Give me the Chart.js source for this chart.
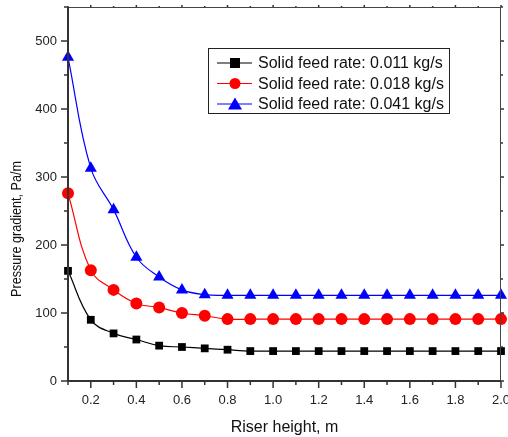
<!DOCTYPE html>
<html><head><meta charset="utf-8">
<script src="https://cdn.jsdelivr.net/npm/chart.js@4.4.0/dist/chart.umd.min.js"></script>
<style>html,body{margin:0;padding:0;background:#fff}#wrap{width:508px;height:437px}</style>
</head><body><div id="wrap"><canvas id="c" width="508" height="437"></canvas></div>
<script>
const heights = [0.1,0.2,0.3,0.4,0.5,0.6,0.7,0.8,0.9,1.0,1.1,1.2,1.3,1.4,1.5,1.6,1.7,1.8,1.9,2.0];
const rate011 = [162,90,70,61,52,50,48,46,44,44,44,44,44,44,44,44,44,44,44,44];
const rate018 = [276,163,134,114,108,100,96,91,91,91,91,91,91,91,91,91,91,91,91,91];
const rate041 = [476,313,252,182,153,134,127,126,126,126,126,126,126,126,126,126,126,126,126,126];
const seriesLabels = ['Solid feed rate: 0.011 kg/s','Solid feed rate: 0.018 kg/s','Solid feed rate: 0.041 kg/s'];
const yTitle = 'Pressure gradient, Pa/m';
const xTitle = 'Riser height, m';
const yTicks = [0,100,200,300,400,500];
const xTicks = [0.2,0.4,0.6,0.8,1.0,1.2,1.4,1.6,1.8,2.0];
const xMinor = [0.1,0.3,0.5,0.7,0.9,1.1,1.3,1.5,1.7,1.9];
const yMinor = [50,150,250,350,450,550];

const FONT = '"Liberation Sans", Arial, sans-serif';
function pts(vals){return heights.map((h,i)=>({x:h,y:vals[i]}));}

const axisPlugin = {
  id:'axisPlugin',
  afterDraw(chart){
    const ctx=chart.ctx, a=chart.chartArea, xs=chart.scales.x, ys=chart.scales.y;
    ctx.save();
    ctx.strokeStyle='#444'; ctx.lineWidth=1;
    ctx.beginPath(); ctx.moveTo(a.left,a.top+0.5); ctx.lineTo(a.right,a.top+0.5);
    ctx.moveTo(a.right-0.5,a.top); ctx.lineTo(a.right-0.5,a.bottom); ctx.stroke();
    ctx.strokeStyle='#333'; ctx.lineWidth=2;
    ctx.beginPath(); ctx.moveTo(a.left,a.top); ctx.lineTo(a.left,a.bottom+1);
    ctx.moveTo(a.left-1,a.bottom); ctx.lineTo(a.right,a.bottom); ctx.stroke();
    ctx.lineWidth=1.5; ctx.strokeStyle='#333';
    ctx.beginPath();
    xTicks.forEach(v=>{const p=xs.getPixelForValue(v); ctx.moveTo(p,a.bottom); ctx.lineTo(p,a.bottom+7); ctx.moveTo(p,a.top); ctx.lineTo(p,a.top-2);});
    xMinor.forEach(v=>{const p=xs.getPixelForValue(v); ctx.moveTo(p,a.bottom); ctx.lineTo(p,a.bottom+4); ctx.moveTo(p,a.top); ctx.lineTo(p,a.top-1);});
    yTicks.forEach(v=>{const p=ys.getPixelForValue(v); ctx.moveTo(a.left,p); ctx.lineTo(a.left-7,p); ctx.moveTo(a.right,p); ctx.lineTo(a.right+3,p);});
    yMinor.forEach(v=>{const p=ys.getPixelForValue(v); ctx.moveTo(a.left,p); ctx.lineTo(a.left-4,p); ctx.moveTo(a.right,p); ctx.lineTo(a.right+2,p);});
    ctx.stroke();
    // y title
    ctx.save();
    ctx.translate(17,229); ctx.rotate(-Math.PI/2); ctx.scale(0.9,1);
    ctx.font='14px '+FONT; ctx.fillStyle='#111'; ctx.textAlign='center'; ctx.textBaseline='middle';
    ctx.fillText(yTitle,0,0);
    ctx.restore();
    // legend
    const lx=208, ly=48, lw=241, lh=65;
    ctx.fillStyle='#fff'; ctx.fillRect(lx,ly,lw,lh);
    ctx.strokeStyle='#222'; ctx.lineWidth=1; ctx.strokeRect(lx+0.5,ly+0.5,lw,lh);
    ctx.font='16px '+FONT; ctx.textBaseline='middle'; ctx.textAlign='left';
    chart.data.datasets.forEach((ds,i)=>{
      const y=ly+15+i*20.5;
      ctx.strokeStyle=ds.borderColor; ctx.lineWidth=1;
      ctx.beginPath(); ctx.moveTo(lx+9,y); ctx.lineTo(lx+44,y); ctx.stroke();
      ctx.fillStyle=ds.pointBackgroundColor;
      const cx=lx+27;
      if(ds.pointStyle==='rect'){ctx.fillRect(cx-5,y-5,10,10);}
      else if(ds.pointStyle==='circle'){ctx.beginPath(); ctx.arc(cx,y,5.5,0,Math.PI*2); ctx.fill();}
      else {ctx.beginPath(); ctx.moveTo(cx,y-6.5); ctx.lineTo(cx+7,y+5.5); ctx.lineTo(cx-7,y+5.5); ctx.closePath(); ctx.fill();}
      ctx.fillStyle='#111'; ctx.fillText(seriesLabels[i], lx+50, y+1);
    });
    ctx.restore();
  }
};

function ds(label,vals,color,style,r){
  return {label, data:pts(vals), borderColor:color, backgroundColor:color, pointBackgroundColor:color,
    pointBorderColor:color, pointStyle:style, pointRadius:r, pointBorderWidth:0, borderWidth:1.2,
    tension:0.4, clip:8};
}

new Chart(document.getElementById('c'),{
  type:'line',
  data:{datasets:[
    ds(seriesLabels[0],rate011,'#000000','rect',5.5),
    ds(seriesLabels[1],rate018,'#ff0000','circle',6),
    ds(seriesLabels[2],rate041,'#0000ff','triangle',7)
  ]},
  options:{
    responsive:false, animation:false, devicePixelRatio:1,
    layout:{padding:{top:6,right:6,left:0,bottom:0}},
    plugins:{legend:{display:false},tooltip:{enabled:false}},
    scales:{
      x:{type:'linear',min:0.1,max:2.0,
        afterBuildTicks(s){s.ticks=xTicks.map(v=>({value:v}));},
        afterFit(s){s.height=56; s.paddingLeft=0; s.paddingRight=0;},
        grid:{display:false,drawTicks:false}, border:{display:false},
        ticks:{padding:12,color:'#222',font:{family:FONT,size:13},maxRotation:0,autoSkip:false,
          callback:v=>Number(v).toFixed(1)},
        title:{display:true,text:xTitle,color:'#111',font:{family:FONT,size:16},padding:{top:4,bottom:0}}
      },
      y:{min:0,max:550,
        afterBuildTicks(s){s.ticks=yTicks.map(v=>({value:v}));},
        afterFit(s){s.width=68; s.paddingTop=0; s.paddingBottom=0;},
        grid:{display:false,drawTicks:false}, border:{display:false},
        ticks:{padding:11,color:'#222',font:{family:FONT,size:13},callback:v=>String(v)},
        title:{display:false}
      }
    }
  },
  plugins:[axisPlugin]
});
</script></body></html>
